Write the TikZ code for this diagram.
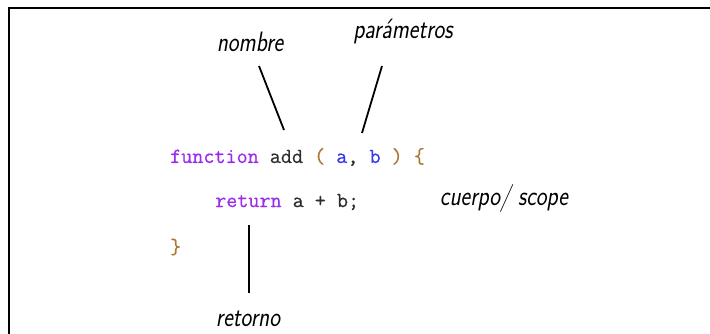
\documentclass[tikz,border=0pt]{standalone}
\usepackage{fontspec}
\usepackage{tikz}
\usetikzlibrary{positioning}
\newfontfamily\codefont[FakeBold=0.6]{Latin Modern Mono}
\newfontfamily\handfont[FakeStretch=0.82]{Latin Modern Sans}
\definecolor{keywordcolor}{RGB}{155, 45, 235}
\definecolor{paramcolor}{RGB}{55, 55, 235}
\definecolor{bracecolor}{RGB}{170, 120, 50}
\definecolor{codecolor}{RGB}{45, 45, 45}
\definecolor{framecolor}{RGB}{0, 0, 0}
\tikzset{
codetext/.style={
  anchor=west,
  inner sep=0pt,
  font=\codefont\fontsize{21.5}{24}\selectfont,
  text=codecolor
},
handlabel/.style={
  inner sep=0pt,
  font=\handfont\itshape\fontsize{28}{30}\selectfont,
  text=black
},
pointer/.style={
  line width=1.8pt,
  draw=black
}
}
\newcommand{\kwd}[1]{\textcolor{keywordcolor}{#1}}
\newcommand{\prm}[1]{\textcolor{paramcolor}{#1}}
\newcommand{\brc}[1]{\textcolor{bracecolor}{#1}}

\begin{document}
\begin{tikzpicture}[x=1pt, y=-1pt]
      \useasboundingbox (0,0) rectangle (710,334);
      \clip (0,0) rectangle (710,334);
      % Frame
      \draw[draw=framecolor, line width=2.6pt] (9,340) -- (9,8) -- (720,8);
      % Code
      \node[codetext] (signature) at (170,157)
        {\kwd{function} add \brc{(} \prm{a}, \prm{b} \brc{)} \brc{\{}};
      \node[codetext] (body) at (215,202) {\kwd{return} a + b;};
      \node[codetext] (closing) at (170,247) {\brc{\}}};
      % Labels
      \node[handlabel] (nombre) at (250,42) {nombre};
      \node[handlabel] (parametros) at (403,32) {par\'ametros};
      \node[handlabel] (cuerpo) at (504,199) {cuerpo/ scope};
      \node[handlabel] (retorno) at (248,319) {retorno};
      % Pointers
      \coordinate (nombre-end) at (284,130);
      \coordinate (param-end) at (362,133);
      \coordinate (retorno-end) at (249,225);
      \draw[pointer] ([xshift=9pt, yshift=-24pt]nombre.center) -- (nombre-end);
      \draw[pointer] ([xshift=-21pt, yshift=-34pt]parametros.center) -- (param-end);
      \draw[pointer] ([xshift=1pt, yshift=26pt]retorno.center) -- (retorno-end);
    \end{tikzpicture}
\end{document}
